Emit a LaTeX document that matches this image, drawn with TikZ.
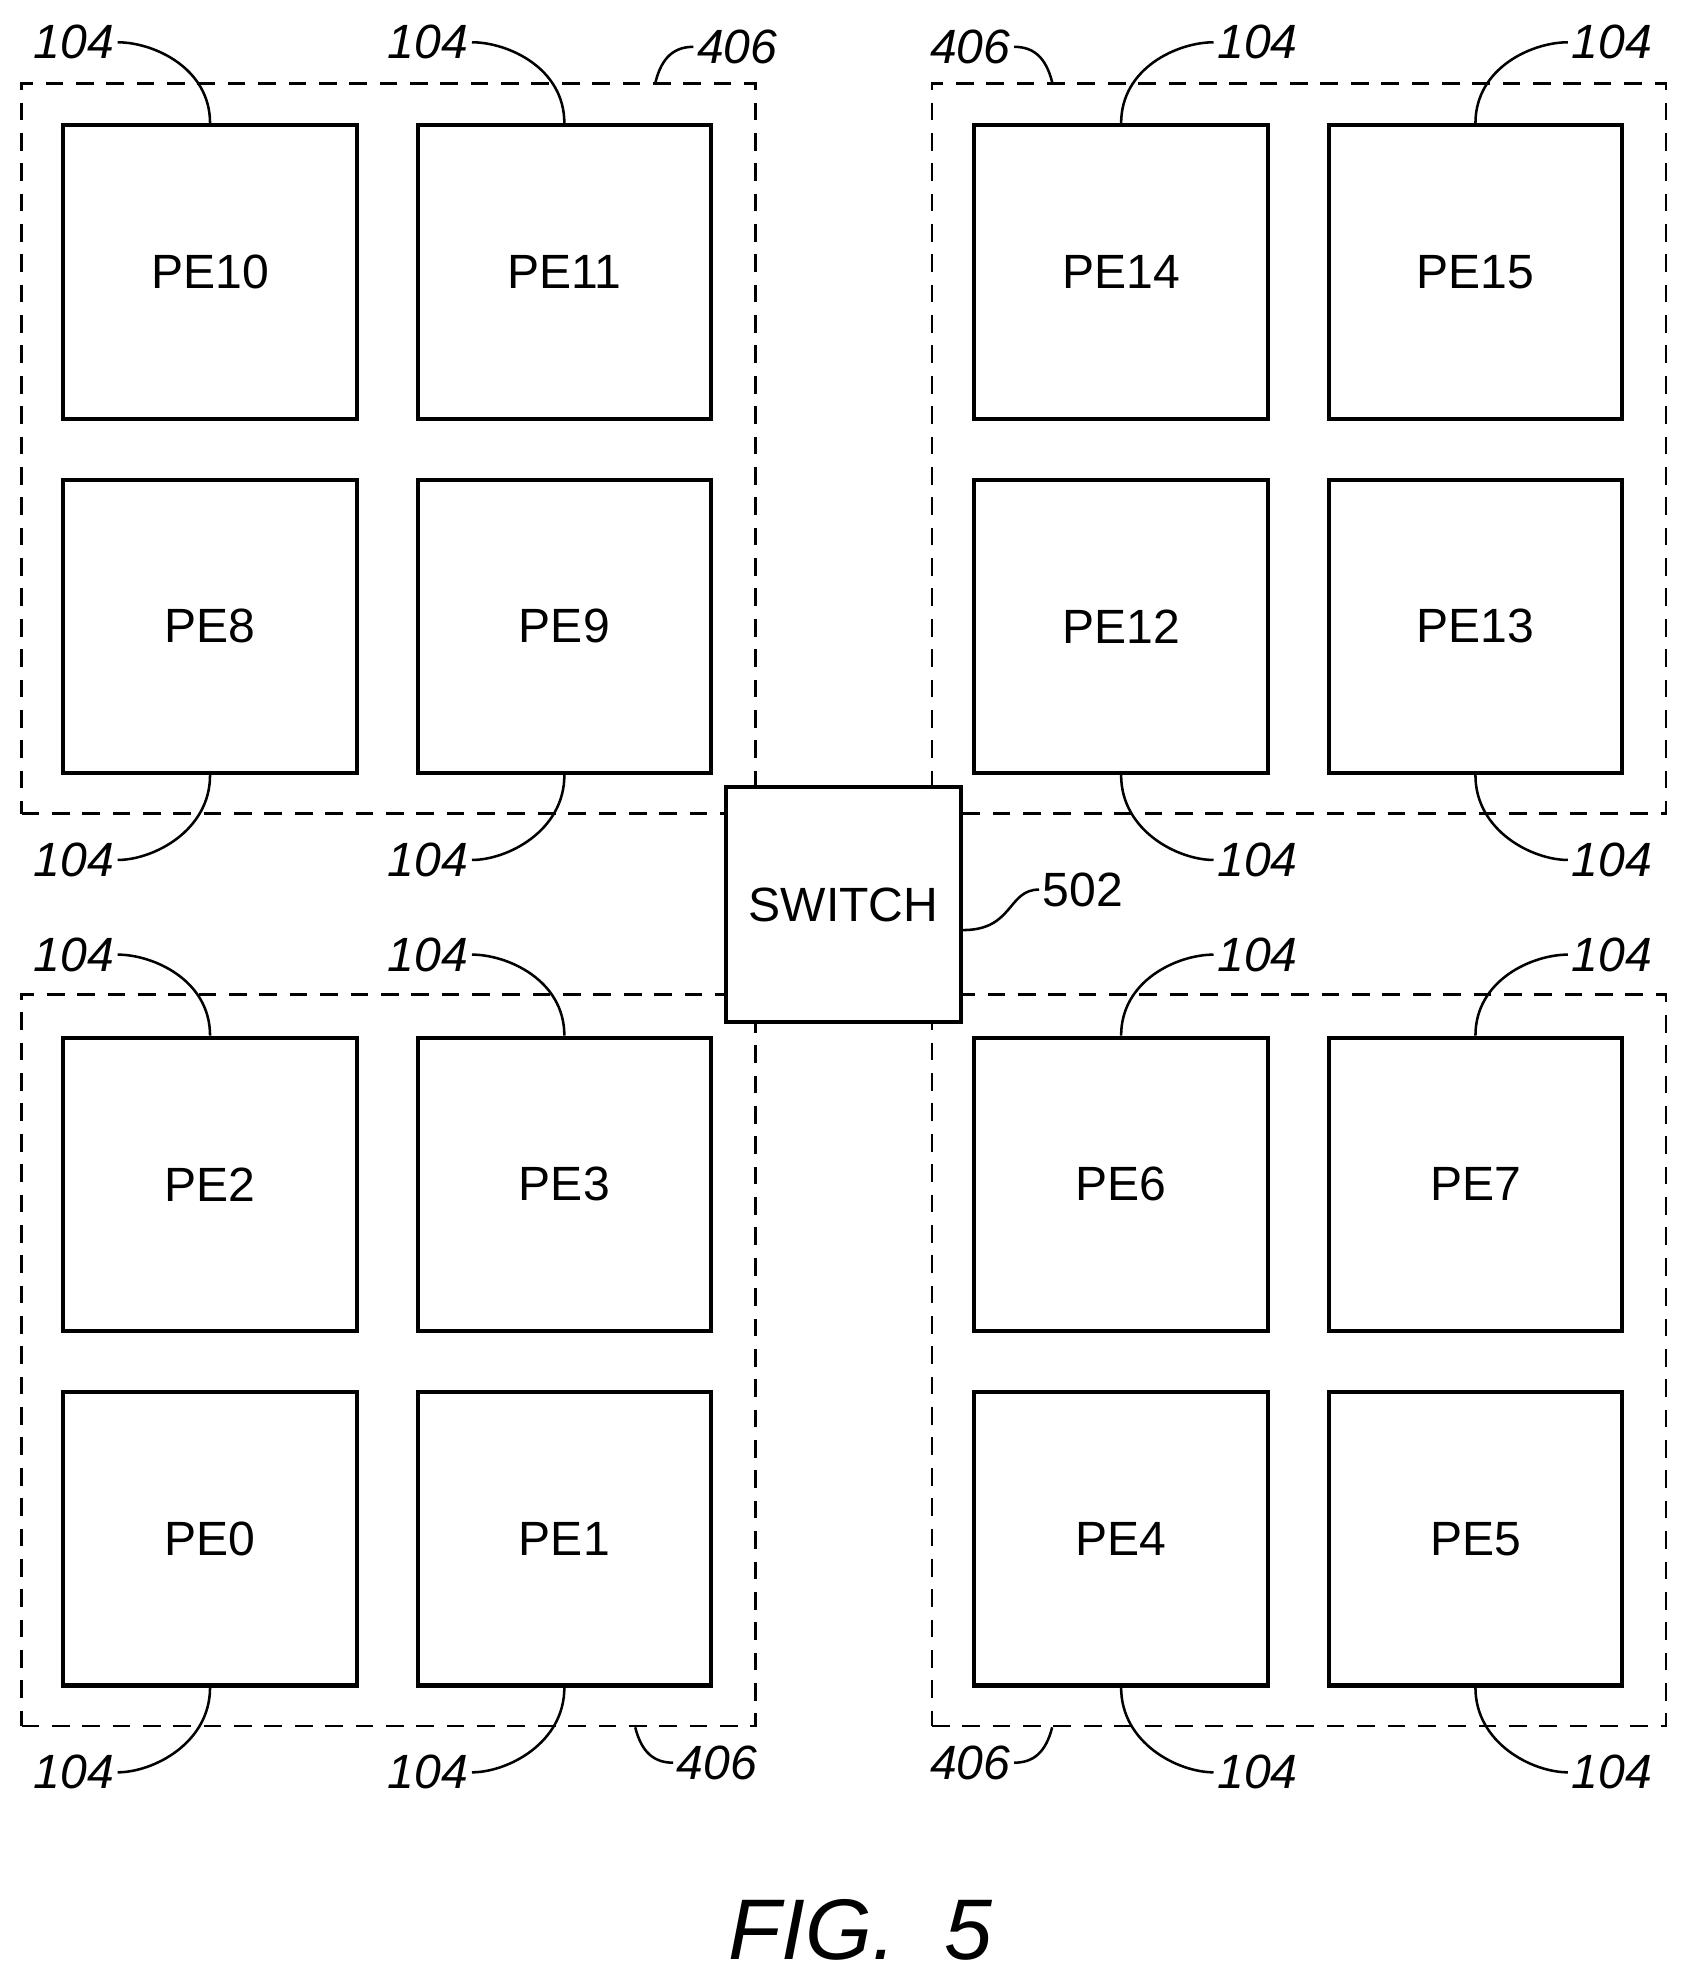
\documentclass[tikz,border=0pt]{standalone}
\usepackage{fontspec}
\setmainfont{Liberation Sans}
\begin{document}
\begin{tikzpicture}[x=0.5pt,y=-0.5pt,
  pe/.style={draw, line width=1.6pt, minimum width=116pt, minimum height=116pt, inner sep=0pt, font=\fontsize{19}{19}\selectfont},
  grp/.style={draw, dashed, line width=1pt, dash pattern=on 7pt off 5pt, inner sep=0pt},
  lead/.style={line width=1pt},
  ref/.style={font=\itshape\fontsize{19}{19}\selectfont, inner sep=1pt}]
  \useasboundingbox (0,0) rectangle (1330,1560);
  % dashed groups
  \node[grp, minimum width=290pt, minimum height=288.5pt] (gtl) at (307,354.5) {};
  \node[grp, minimum width=290pt, minimum height=288.5pt] (gtr) at (1026.5,354.5) {};
  \node[grp, minimum width=290pt, minimum height=289pt] (gbl) at (307,1075) {};
  \node[grp, minimum width=290pt, minimum height=289pt] (gbr) at (1026.5,1075) {};
  % processing elements
  \foreach \n/\cx/\cy in {0/166/1216,1/446/1216,2/166/936,3/446/936,
                          4/886/1216,5/1166/1216,6/886/936,7/1166/936,
                          8/166/495,9/446/495,10/166/215,11/446/215,
                          12/886/495,13/1166/495,14/886/215,15/1166/215}{
    \node[pe, fill=white] (pe\n) at (\cx,\cy) {PE\n};
  }
  % switch
  \node[pe, fill=white, minimum width=93pt, minimum height=93pt] (sw) at (666.5,715) {SWITCH};
  \draw[lead] (sw.east) ++(0,20) .. controls +(40,0) and +(-25,0) .. ++(60,-32)
    node[ref, anchor=west, font=\fontsize{19}{19}\selectfont] (l502) {502};
  % 104 leaders, left groups
  \foreach \n in {10,11,2,3}{
    \draw[lead] (pe\n.north) .. controls +(0,-44) and +(28,0) .. ++(-73,-64) node[ref, anchor=east] {104};
  }
  \foreach \n in {8,9,0,1}{
    \draw[lead] (pe\n.south) .. controls +(0,44) and +(28,0) .. ++(-73,67) node[ref, anchor=east] {104};
  }
  % 104 leaders, right groups
  \foreach \n in {14,15,6,7}{
    \draw[lead] (pe\n.north) .. controls +(0,-44) and +(-28,0) .. ++(73,-64) node[ref, anchor=west] {104};
  }
  \foreach \n in {12,13,4,5}{
    \draw[lead] (pe\n.south) .. controls +(0,44) and +(-28,0) .. ++(73,67) node[ref, anchor=west] {104};
  }
  % 406 leaders
  \draw[lead] ([xshift=-40pt]gtl.north east) .. controls +(5,-20) and +(-15,0) .. ++(30,-28) node[ref, anchor=west] {406};
  \draw[lead] ([xshift=-48pt]gbl.south east) .. controls +(5,20) and +(-15,0) .. ++(30,28) node[ref, anchor=west] {406};
  \draw[lead] ([xshift=48pt]gtr.north west) .. controls +(-5,-20) and +(15,0) .. ++(-30,-28) node[ref, anchor=east] {406};
  \draw[lead] ([xshift=48pt]gbr.south west) .. controls +(-5,20) and +(15,0) .. ++(-30,28) node[ref, anchor=east] {406};
  \node[font=\itshape\fontsize{34}{34}\selectfont] (fig) at (680,1525) {FIG.\ \ 5};
\end{tikzpicture}
\end{document}
